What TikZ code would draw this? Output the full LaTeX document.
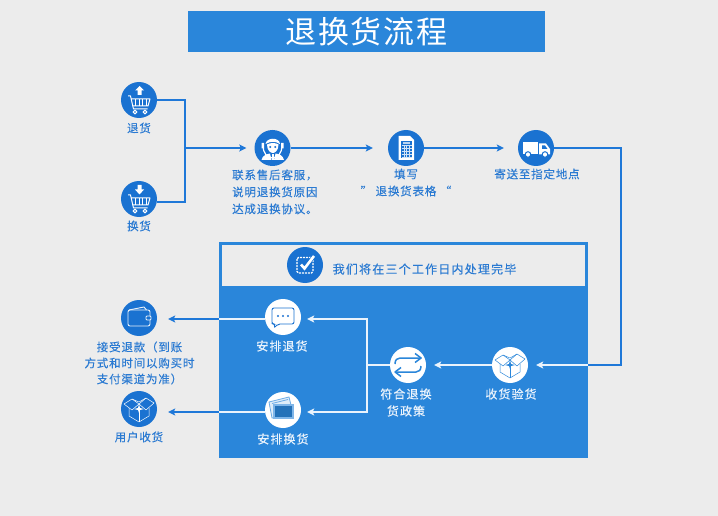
\documentclass[tikz,border=0pt]{standalone}
\usepackage{fontspec}
\usetikzlibrary{arrows.meta}
\newfontfamily\cjk{Noto Sans CJK SC}[LetterSpace=7,FakeBold=0.15]
\newfontfamily\cjkhead{Noto Sans CJK SC}[LetterSpace=10,FakeBold=0.15]
\newfontfamily\cjkb{Noto Sans CJK SC}[LetterSpace=9,FakeBold=0.4]
\newfontfamily\cjktitle{Noto Sans CJK SC}[LetterSpace=5]
\definecolor{bgc}{HTML}{ECECEC}
\definecolor{panelc}{HTML}{2A86DA}
\definecolor{iconc}{HTML}{1A72D1}
\definecolor{linec}{HTML}{1F78D8}
\definecolor{textc}{HTML}{2A7AD2}
\definecolor{softc}{HTML}{EAF3FC}
\tikzset{
  iconB/.style={circle,fill=iconc,minimum size=36pt,inner sep=0pt},
  iconW/.style={circle,fill=white,minimum size=36pt,inner sep=0pt},
  lab/.style={text=textc,font=\cjk\fontsize{11.5}{13}\selectfont,inner sep=0pt},
  labw/.style={text=softc,font=\cjkb\fontsize{12}{13}\selectfont,inner sep=0pt},
  flow/.style={line width=1.4pt,linec},
  flowin/.style={line width=1.4pt,softc},
  tip/.style={-{Stealth[length=7pt,width=7pt,inset=1.5pt]}},
}
\newcommand{\carticon}[1]{%
  \begin{scope}[shift={(#1)},white,line join=round]
    \draw[line width=1pt] (-11,-4) -- (-8.5,-4) -- (-5.5,9) -- (8.5,9);
    \draw[line width=1pt] (-8,-1) -- (11,-1) -- (9,6) -- (-6.3,6);
    \foreach \xx in {-3.5,0,3.5,7}{\draw[line width=1pt] (\xx,-.5) -- (\xx,6);}
    \draw[line width=1pt] (-4,12) circle (1.9) (6,12) circle (1.9);
  \end{scope}}
\newcommand{\agenticon}[1]{%
  \begin{scope}[shift={(#1)}]
    \draw[white,line width=1.2pt] (-9.5,-2) arc[start angle=180,end angle=360,x radius=9.5,y radius=-12];
    \fill[white] (-11,-5) rectangle (-8.5,0.5) (8.5,-5) rectangle (11,0.5);
    \fill[white] (-7,-4) .. controls (-6,-11) and (7,-11) .. (7.5,-4) .. controls (3,-7) and (-2,-7) .. (-7,-4) -- cycle;
    \fill[white] (-5.5,-3.5) .. controls (-2,-5.5) and (3,-5.5) .. (6,-3.5) .. controls (6,3) and (2,5) .. (0.3,5) .. controls (-1.5,5) and (-5.5,3) .. (-5.5,-3.5) -- cycle;
    \fill[iconc] (-2.3,-1) circle (1.1) (2.8,-1) circle (1.1);
    \fill[white] (-11,12) .. controls (-10,7.5) and (-6,6) .. (-2.5,5.5) -- (-1,12) -- cycle;
    \fill[white] (11.5,12) .. controls (10.5,7.5) and (7,6) .. (3,5.5) -- (1.5,12) -- cycle;
    \fill[white] (-0.5,6.5) rectangle (1,12);
  \end{scope}}
\newcommand{\formicon}[1]{%
  \begin{scope}[shift={(#1)}]
    \fill[white] (-7.5,-12) -- (4,-12) -- (8,-8) -- (8,12) -- (-7.5,12) -- cycle;
    \fill[iconc] (-5,-7) rectangle (6,10);
    \fill[white!70!iconc] (-3,-6) rectangle (4,-4);
    \foreach \xx in {-2.2,.5,3.2}{\draw[white!80!iconc,line width=.6pt] (\xx,-3) -- (\xx,9.5);}
    \foreach \yy in {-3,0,3,6,9}{\draw[white!80!iconc,line width=.6pt] (-4.5,\yy) -- (5.5,\yy);}
  \end{scope}}
\newcommand{\truckicon}[1]{%
  \begin{scope}[shift={(#1)}]
    \fill[white] (-13,-6) rectangle (2,6.5);
    \fill[white] (3,-4.5) -- (10,-4.5) -- (14,1) -- (14,6.5) -- (3,6.5) -- cycle;
    \fill[iconc] (6,-2.5) -- (9,-2.5) -- (11.5,1) -- (6,1) -- cycle;
    \fill[white,draw=iconc,line width=1pt] (-8,6.5) circle (2.8) (9,6.5) circle (2.8);
  \end{scope}}
\newcommand{\checkicon}[1]{%
  \begin{scope}[shift={(#1)}]
    \draw[white,line width=1.3pt,dash pattern=on 2pt off 1pt,rounded corners=1.5pt] (-8,-7.5) rectangle (8,8);
    \draw[iconc,line width=4pt] (-4,-.5) -- (-.5,3.5) -- (9,-9);
    \draw[white,line width=2.6pt] (-4,-.5) -- (-.5,3.5) -- (9,-9);
  \end{scope}}
\newcommand{\walleticon}[1]{%
  \begin{scope}[shift={(#1)},white!90!iconc,line width=.9pt]
    \draw[rounded corners=2pt] (-11,-8) rectangle (11,8);
    \draw (-10,-8) -- (5,-11) -- (7.5,-8);
    \draw[fill=iconc,rounded corners=1pt] (7,-2) rectangle (12,2);
  \end{scope}}
\newcommand{\chaticon}[1]{%
  \begin{scope}[shift={(#1)},iconc]
    \draw[line width=.9pt,rounded corners=2pt] (-11,-9) -- (11,-9) -- (11,7) -- (-5,7) -- (-9,11) -- (-8,7) -- (-11,7) -- cycle;
    \fill (-5,-1) circle (1.2) (0,-1) circle (1.2) (5,-1) circle (1.2);
  \end{scope}}
\newcommand{\cardicon}[1]{%
  \begin{scope}[shift={(#1)}]
    \draw[panelc!70,line width=.8pt,fill=panelc!15] (-14,-8) -- (6,-13) -- (8,-5) -- (-9,-5) -- (-9,8) -- (-11,8) -- cycle;
    \draw[panelc!70,line width=.8pt] (-11,-6.5) -- (5,-10.5);
    \draw[panelc!60,line width=1.2pt,fill=panelc!85!black] (-9,-5) rectangle (10,8);
  \end{scope}}
\newcommand{\swapicon}[1]{%
  \begin{scope}[shift={(#1)},panelc,line width=1.5pt,line join=round]
    \draw (-13,-1) .. controls (-13,-5) and (-11,-7) .. (-8,-7) -- (13,-7);
    \draw (7,-11.5) -- (13,-7) -- (7,-2.5);
    \draw (13,1) .. controls (13,5) and (11,7) .. (8,7) -- (-13,7);
    \draw (-7,2.5) -- (-13,7) -- (-7,11.5);
  \end{scope}}
\newcommand{\boxicon}[2]{%
  \begin{scope}[shift={(#1)},#2,line width=.5pt,line join=round]
    \draw (-10,-1) -- (-10,7) -- (0,13) -- (10,7) -- (10,-1);
    \draw (0,13) -- (0,1);
    \draw (-15,-5) -- (-7,-10) -- (0,-5) -- (-7,1) -- cycle;
    \draw (15,-6) -- (7,-11) -- (0,-5) -- (7,1) -- cycle;
    \draw (-7,-10) -- (0,-7) -- (7,-11);
    \fill (0,-5) -- (1,-1) -- (5,0) -- (1,1) -- (0,4) -- (-1,1) -- (-5,0) -- (-1,-1) -- cycle;
  \end{scope}}
\begin{document}
\begin{tikzpicture}[x=1pt,y=-1pt]
  \path[use as bounding box,fill=bgc] (0,0) rectangle (718,516);
  % title
  \node[fill=panelc,minimum width=357pt,minimum height=41pt,inner sep=0pt,text=white,
        font=\cjktitle\fontsize{31}{33}\selectfont] (title) at (366.5,31.5) {退换货流程};
  % panel
  \fill[panelc] (219,242) rectangle (588,458);
  \fill[bgc] (222,245) rectangle (585,286);
  % icons
  \node[iconB] (ret)  at (139,100) {};
  \node[iconB] (exc)  at (139,199) {};
  \node[iconB] (srv)  at (272.5,148) {};
  \node[iconB] (form) at (406,148) {};
  \node[iconB] (trk)  at (536,148) {};
  \node[iconB] (chk)  at (305,265) {};
  \node[iconB] (wal)  at (139,318) {};
  \node[iconB] (usr)  at (139,409) {};
  \node[iconW] (chat) at (283,317) {};
  \node[iconW] (card) at (283,410) {};
  \node[iconW] (swp)  at (408,365) {};
  \node[iconW] (bx)   at (510,365) {};
  \carticon{ret}
  \fill[white] (137.5,95) rectangle (141.5,90) (135,90.5) -- (139.5,86) -- (144,90.5) -- cycle;
  \carticon{exc}
  \fill[white] (137.5,185) rectangle (141.5,190) (135,189.5) -- (139.5,194.5) -- (144,189.5) -- cycle;
  \agenticon{srv}
  \formicon{form}
  \truckicon{trk}
  \checkicon{chk}
  \walleticon{wal}
  \boxicon{usr}{white}
  \chaticon{chat}
  \cardicon{card}
  \swapicon{swp}
  \boxicon{bx}{panelc}
  % labels
  \node[lab] (lret) at (139,128) {退货};
  \node[lab] (lexc) at (139,226) {换货};
  \node[lab,anchor=west] (lsrv1) at (232,175) {联系售后客服，};
  \node[lab,anchor=west] (lsrv2) at (232,192) {说明退换货原因};
  \node[lab,anchor=west] (lsrv3) at (232,209) {达成退换协议。};
  \node[lab] (lform1) at (406,174) {填写};
  \node[lab] (lform2) at (406,191) {” 退换货表格 “};
  \node[lab] (ltrk) at (537,174) {寄送至指定地点};
  \node[lab,font=\cjkhead\fontsize{12}{13}\selectfont] (lchk) at (424.5,269) {我们将在三个工作日内处理完毕};
  \node[lab] (lwal1) at (139.5,347) {接受退款（到账};
  \node[lab] (lwal2) at (139.5,363) {方式和时间以购买时};
  \node[lab] (lwal3) at (139.5,379) {支付渠道为准）};
  \node[lab] (lusr) at (139,437) {用户收货};
  \node[labw] (lchat) at (282,346) {安排退货};
  \node[labw] (lcard) at (283,439) {安排换货};
  \node[labw] (lswp1) at (406,394) {符合退换};
  \node[labw] (lswp2) at (406,411) {货政策};
  \node[labw] (lbx) at (511,394) {收货验货};
  % junction coordinates
  \coordinate (j1) at (185,100);
  \coordinate (j2) at (185,202);
  \coordinate (jm) at (185,148);
  \coordinate (c1) at (621,148);
  \coordinate (c2) at (621,365);
  \coordinate (pr) at (588,365);
  \coordinate (t)  at (367,365);
  \coordinate (b1) at (367,319);
  \coordinate (b2) at (367,412);
  \coordinate (p1) at (219,319);
  \coordinate (p2) at (219,412);
  % connectors
  \draw[flow] (ret.east) -- (j1) -- (j2) -- (exc.east |- j2);
  \draw[flow,tip,shorten >=8pt] (jm) -- (srv.west);
  \draw[flow,tip,shorten >=15pt] (srv.east) -- (form.west);
  \draw[flow,tip,shorten >=14pt] (form.east) -- (trk.west);
  \draw[flow] (trk.east) -- (c1) -- (c2) -- (pr);
  \draw[flowin,tip,shorten >=8pt] (pr) -- (bx.east);
  \draw[flowin,tip,shorten >=8pt] (bx.west) -- (swp.east);
  \draw[flowin] (swp.west) -- (t);
  \draw[flowin,tip,shorten >=6pt] (t) -- (b1) -- (chat.east |- b1);
  \draw[flowin,tip,shorten >=6pt] (t) -- (b2) -- (card.east |- b2);
  \draw[flowin] (chat.west |- p1) -- (p1);
  \draw[flowin] (card.west |- p2) -- (p2);
  \draw[flow,tip,shorten >=11pt] (p1) -- (wal.east |- p1);
  \draw[flow,tip,shorten >=11pt] (p2) -- (usr.east |- p2);
\end{tikzpicture}
\end{document}
